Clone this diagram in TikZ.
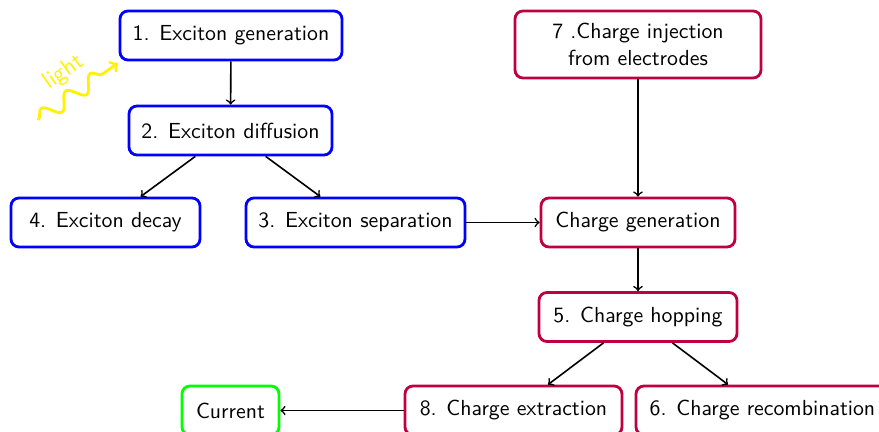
\documentclass[tikz,border=0pt]{standalone}
\usetikzlibrary{decorations.pathmorphing}
\begin{document}
\begin{tikzpicture}[x=0.5pt,y=-0.5pt,font=\sffamily\fontsize{10.9}{13.2}\selectfont,
  box/.style={draw, line width=1.4pt, rounded corners=4pt, minimum height=24.5pt, inner xsep=5pt, align=center, fill=white},
  bbox/.style={box, draw=blue},
  pbox/.style={box, draw=purple},
  gbox/.style={box, draw=green},
  conn/.style={->, thick}]
\clip (0,0) rectangle (879,432);
\node[bbox, minimum width=111pt] (n1) at (231,35.5) {1. Exciton generation};
\node[bbox, minimum width=101.5pt] (n2) at (230.5,130.5) {2. Exciton diffusion};
\node[bbox, minimum width=94.5pt] (n4) at (105.5,222.5) {4. Exciton decay};
\node[bbox, minimum width=109.5pt] (n3) at (355.5,222.5) {3. Exciton separation};
\node[pbox, minimum width=123pt, minimum height=33.5pt] (n7) at (638,44.5) {7 .Charge injection\\from electrodes};
\node[pbox, minimum width=97pt] (cg) at (638,222.5) {Charge generation};
\node[pbox, minimum width=99pt] (n5) at (638,317) {5. Charge hopping};
\node[pbox, minimum width=108.5pt] (n8) at (513.5,410.5) {8. Charge extraction};
\node[pbox, minimum width=126.5pt] (n6) at (762.5,410.5) {6. Charge recombination};
\node[gbox, minimum width=48.5pt] (cur) at (230.5,410.5) {Current};
\coordinate (ls) at (38,120);
\coordinate (le) at (118,63);
\draw[conn] (n1) -- (n2);
\draw[conn] (n2) -- (n4);
\draw[conn] (n2) -- (n3);
\draw[conn] (n3) -- (cg);
\draw[conn] (n7) -- (cg);
\draw[conn] (cg) -- (n5);
\draw[conn] (n5) -- (n8);
\draw[conn] (n5) -- (n6);
\draw[conn] (n8) -- (cur);
\draw[yellow, line width=1.4pt, ->, decorate, decoration={snake, amplitude=3.8pt, segment length=15pt, post length=2.5mm}] (ls) -- node[above=2.5pt, sloped, font=\sffamily\fontsize{12}{14}\selectfont] {light} (le);
\end{tikzpicture}
\end{document}
